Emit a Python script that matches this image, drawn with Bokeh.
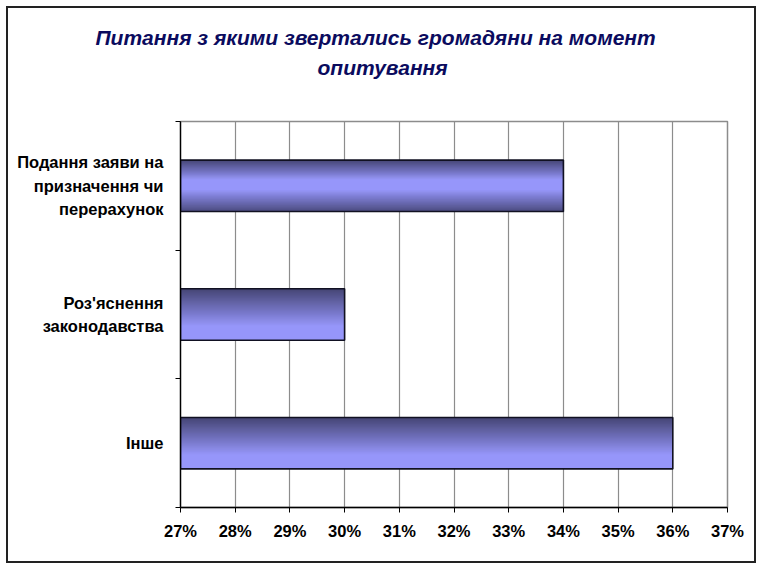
from bokeh.plotting import figure
from bokeh.models import (Range1d, FixedTicker, PrintfTickFormatter, Title,
                          ColumnDataSource)
from bokeh.embed import file_html
from bokeh.resources import INLINE

# ---- data ----
categories = ["Подання заяви на\nпризначення чи\nперерахунок",
              "Роз'яснення\nзаконодавства",
              "Інше"]
values = [34, 30, 36]
x_start, x_end = 27, 37
title_line1 = "Питання з якими звертались громадяни на момент"
title_line2 = "опитування"

# ---- style ----
FONT = "Liberation Sans"
DARK = (70, 70, 118)
LIGHT = (150, 150, 250)
BAR_H = 0.40
LEVELS = 40
gradient_kind = ["pipe", "ramp", "ramp"]
OFF = 8  # css margin + border

n = len(categories)
ypos = [n - i - 0.5 for i in range(n)]


def mix(t):
    r = tuple(int(round(DARK[k] + (LIGHT[k] - DARK[k]) * t)) for k in range(3))
    return "#%02x%02x%02x" % r


def interval(kind, t):
    # fraction-from-top interval where lightness >= t
    if kind == "pipe":
        a = 0.38 * t
        tb = max(0.0, (t - 0.08) / 0.92)
        b = 1.0 if t <= 0.08 else 0.58 + 0.42 * (1 - tb)
        return a, b
    return 0.72 * t, 1.0


band = dict(y=[], left=[], right=[], h=[], c=[])
for i in range(n):
    top = ypos[i] + BAR_H / 2
    for L in range(LEVELS):
        t = L / (LEVELS - 1)
        a, b = interval(gradient_kind[i], t)
        band["y"].append(top - BAR_H * (a + b) / 2)
        band["left"].append(x_start)
        band["right"].append(values[i])
        band["h"].append(BAR_H * (b - a))
        band["c"].append(mix(t))

p = figure(width=750, height=557, output_backend="svg", toolbar_location=None,
           x_range=Range1d(x_start, x_end), y_range=Range1d(0, n),
           min_border_left=180 - OFF, min_border_right=750 - (727 - OFF),
           min_border_top=121 - OFF, min_border_bottom=557 - (507 - OFF),
           background_fill_color="white", border_fill_color="white",
           styles={"border": "2px solid #222222", "margin": "6px 0 0 6px"})

TSTYLE = dict(text_font=FONT, text_font_style="bold italic",
              text_font_size="21px", text_color="#0b0b5e", align="left")
p.title.text = title_line1
for k, v in TSTYLE.items():
    setattr(p.title, k, v)
p.title.offset = -85
p.title.standoff = -76
p.add_layout(Title(text=title_line2, offset=137, standoff=86, **TSTYLE), "above")

p.hbar(y="y", left="left", right="right", height="h", color="c",
       source=ColumnDataSource(band), line_color=None)
p.hbar(y=ypos, left=x_start, right=values, height=BAR_H, fill_color=None,
       line_color="#111122", line_width=1.6)

# grid / frame
p.ygrid.visible = False
p.xgrid.grid_line_color = "#8c8c8c"
p.xgrid.grid_line_width = 1.2
p.outline_line_color = "#8c8c8c"
p.outline_line_width = 1.5

# x axis
p.xaxis.ticker = FixedTicker(ticks=list(range(x_start, x_end + 1)))
p.xaxis.formatter = PrintfTickFormatter(format="%d%%")
p.xaxis.major_tick_in = 0
p.xaxis.major_tick_out = 5
p.xaxis.minor_tick_line_color = None
p.xaxis.axis_line_color = "black"
p.xaxis.axis_line_width = 1.3
p.xaxis.major_label_text_font = FONT
p.xaxis.major_label_text_font_style = "bold"
p.xaxis.major_label_text_font_size = "16.5px"
p.xaxis.major_label_text_color = "black"
p.xaxis.major_label_standoff = 9

# y axis
p.yaxis.ticker = FixedTicker(ticks=ypos, minor_ticks=list(range(0, n + 1)))
p.yaxis.major_label_overrides = {ypos[i]: categories[i] for i in range(n)}
p.yaxis.major_tick_in = 0
p.yaxis.major_tick_out = 0
p.yaxis.minor_tick_in = 0
p.yaxis.minor_tick_out = 5
p.yaxis.axis_line_color = "black"
p.yaxis.axis_line_width = 1.3
p.yaxis.major_label_text_font = FONT
p.yaxis.major_label_text_font_style = "bold"
p.yaxis.major_label_text_font_size = "16.5px"
p.yaxis.major_label_text_color = "black"
p.yaxis.major_label_standoff = 12
p.yaxis.major_label_text_line_height = 1.3

open("out.html", "w").write(file_html(p, INLINE))
